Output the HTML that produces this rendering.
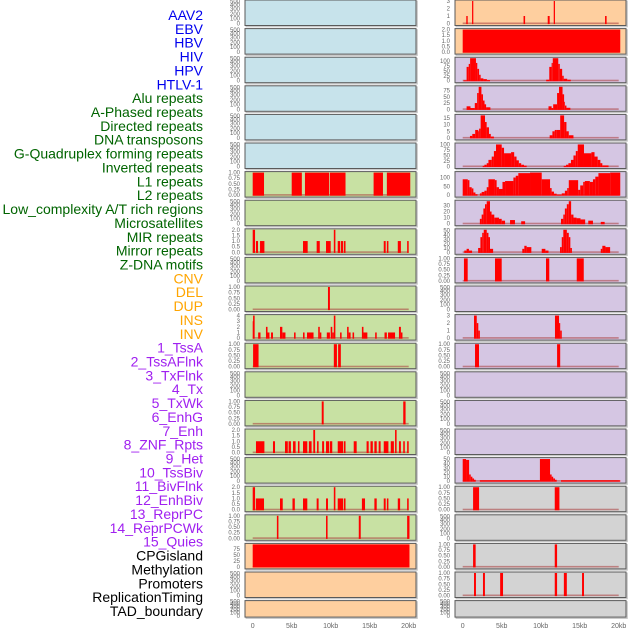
<!DOCTYPE html>
<html><head><meta charset="utf-8"><style>
html,body{margin:0;padding:0;background:#fff;}
svg{display:block;font-family:"Liberation Sans",sans-serif;}
</style></head><body>
<svg id="chart" width="630" height="630" viewBox="0 0 630 630" xmlns="http://www.w3.org/2000/svg">
<g id="labels"></g>
<g id="panels"></g>
<g id="xaxes"></g>
</svg>
<script>
const trackLabels = ["AAV2","EBV","HBV","HIV","HPV","HTLV-1","Alu repeats","A-Phased repeats","Directed repeats","DNA transposons","G-Quadruplex forming repeats","Inverted repeats","L1 repeats","L2 repeats","Low_complexity A/T rich regions","Microsatellites","MIR repeats","Mirror repeats","Z-DNA motifs","CNV","DEL","DUP","INS","INV","1_TssA","2_TssAFlnk","3_TxFlnk","4_Tx","5_TxWk","6_EnhG","7_Enh","8_ZNF_Rpts","9_Het","10_TssBiv","11_BivFlnk","12_EnhBiv","13_ReprPC","14_ReprPCWk","15_Quies","CPGisland","Methylation","Promoters","ReplicationTiming","TAD_boundary"];
const labelGroups = ["v","v","v","v","v","v","r","r","r","r","r","r","r","r","r","r","r","r","r","s","s","s","s","s","c","c","c","c","c","c","c","c","c","c","c","c","c","c","c","o","o","o","o","o"];
const xTickValues = [0,5,10,15,20];
const xTickLabels = ["0","5kb","10kb","15kb","20kb"];

// segments: [startKb, endKb, value]
const leftSeries = [
 [],[],[],[],[],[],
 [[0,1.45,1],[5.0,6.3,1],[6.7,9.8,1],[9.9,11.9,1],[15.5,16.7,1],[17.2,20.2,1]],
 [],
 [[0,0.3,2],[0.42,0.68,1],[0.94,1.5,1],[6.45,7.05,1],[8.2,8.6,1],[9.4,10.0,1],[10.4,10.6,2],[10.9,11.2,1],[11.3,11.6,1],[11.7,11.9,1],[16.8,17.05,1],[17.2,17.4,1],[18.6,19.0,1],[19.8,20.0,1]],
 [],
 [[9.65,9.9,1]],
 [[0,0.05,3],[0.05,0.25,4],[0.7,1.0,1],[1.7,1.9,2],[1.9,2.15,1],[2.35,2.6,1],[3.5,3.8,2],[3.8,4.2,1],[5.3,5.5,1],[6.45,6.65,1],[6.96,7.8,1],[8.4,8.6,2],[8.6,8.8,1],[9.5,9.9,1],[10.0,10.2,2],[10.2,10.4,1],[10.4,10.6,4],[11.2,11.4,1],[12.1,12.3,2],[12.3,12.55,1],[12.8,13.0,1],[14.0,14.2,2],[14.2,14.7,1],[15.7,15.9,1],[16.9,17.2,1],[17.35,18.25,1],[18.75,19.0,2],[19.0,19.2,1]],
 [[0.05,0.75,1],[10.4,10.8,1],[10.95,11.3,1]],
 [],
 [[8.85,9.1,1],[19.3,19.6,1]],
 [[0.42,1.5,1],[2.6,2.86,1],[4.14,4.5,1],[4.6,4.9,1],[5.17,5.5,1],[5.8,6.0,1],[6.45,7.0,1],[7.2,7.55,1],[7.77,8.0,2],[8.25,8.45,1],[8.9,9.15,1],[9.4,9.8,1],[9.9,10.2,1],[10.9,11.6,1],[11.7,11.9,1],[12.95,13.33,1],[14.6,14.87,1],[15.1,15.4,1],[15.6,15.9,1],[16.15,16.4,1],[16.8,17.4,1],[17.7,18.1,1],[18.25,18.45,2],[18.75,19.0,1],[19.3,19.5,1],[19.8,20.0,1]],
 [],
 [[0,0.3,2],[0.4,1.45,1],[3.5,3.85,1],[5.1,5.4,1],[6.45,7.0,1],[8.2,8.45,1],[9.4,9.65,1],[10.4,10.6,2],[10.9,11.6,1],[11.7,11.9,1],[14.0,14.4,1],[15.6,15.9,1],[16.8,17.05,1],[17.2,17.4,1],[18.6,18.9,1],[19.8,20.0,1]],
 [[3.1,3.3,1],[9.4,9.6,1],[13.6,13.85,1],[19.8,20.1,1]],
 [[0,20.1,100]],
 [],[]
];
const rightSeries = [
 [[0.46,0.64,1],[1.2,1.36,3],[7.8,8.0,1],[10.9,11.15,1],[11.67,11.83,3],[18.25,18.45,1]],
 [[0,20.2,2]],
 [[0.1,0.5,2],[0.5,0.77,70],[0.77,0.95,85],[0.95,1.7,115],[1.7,1.87,90],[1.87,2.1,60],[2.1,2.3,30],[2.3,2.65,12],[2.65,3.1,8],[3.1,3.5,3],[10.7,11.1,5],[11.1,11.4,70],[11.4,11.55,90],[11.55,12.25,115],[12.25,12.45,85],[12.45,12.75,60],[12.75,12.95,25],[12.95,13.4,10],[13.4,13.85,5]],
 [[0.5,1.0,12],[1.0,1.55,5],[1.55,1.85,25],[1.85,2.05,65],[2.05,2.4,90],[2.4,2.6,60],[2.6,2.8,35],[2.8,3.0,20],[3.0,3.55,8],[11.0,11.4,12],[11.4,11.6,5],[11.6,12.1,20],[12.1,12.35,65],[12.35,12.8,90],[12.8,13.0,60],[13.0,13.1,30],[13.1,13.3,15],[13.3,13.8,6]],
 [[0.93,1.23,1.5],[1.23,1.6,3],[1.6,2.0,6],[2.0,2.1,5],[2.1,2.3,7],[2.3,2.86,17],[2.86,3.07,12],[3.07,3.37,8],[3.37,3.6,3],[3.6,4.0,1],[11.15,11.5,2],[11.5,11.8,5],[11.8,12.05,6],[12.05,12.5,6],[12.5,13.0,17],[13.0,13.3,12],[13.3,13.6,5],[13.6,14.2,2]],
 [[2.56,2.78,3],[2.78,3.08,8],[3.08,3.3,15],[3.3,3.72,30],[3.72,4.0,45],[4.0,4.27,70],[4.27,5.0,100],[5.0,5.3,85],[5.3,6.2,60],[6.2,6.6,65],[6.6,6.9,45],[6.9,7.2,28],[7.2,7.5,15],[7.5,7.86,8],[7.86,8.2,4],[12.95,13.25,3],[13.25,13.55,8],[13.55,13.88,15],[13.88,14.2,30],[14.2,14.5,50],[14.5,14.75,70],[14.75,15.55,100],[15.55,16.5,60],[16.5,16.9,65],[16.9,17.3,45],[17.3,17.65,30],[17.65,17.9,15],[17.9,18.7,5]],
 [[0,0.65,90],[0.65,0.86,85],[0.86,1.15,45],[1.15,1.37,38],[1.37,1.63,15],[1.63,1.9,5],[2.2,2.43,10],[2.43,2.78,18],[2.78,3.08,25],[3.08,3.3,45],[3.3,4.13,90],[4.13,4.35,85],[4.35,4.65,45],[4.65,5.1,35],[5.1,5.43,75],[5.43,6.5,80],[6.5,6.8,100],[6.8,7.13,110],[7.13,8.63,125],[8.63,10.13,130],[10.13,11.2,90],[11.2,11.4,40],[11.4,11.7,20],[11.7,12.05,8],[12.05,12.7,3],[12.7,13.1,10],[13.1,13.4,25],[13.4,13.6,40],[13.6,14.8,85],[14.8,15.07,30],[15.07,15.45,55],[15.45,15.66,75],[15.66,16.3,80],[16.3,16.7,75],[16.7,17.0,90],[17.0,17.4,105],[17.4,18.9,125],[18.9,20.2,130]],
 [[2.2,2.43,8],[2.43,2.65,15],[2.65,2.86,25],[2.86,3.08,32],[3.08,3.5,37],[3.5,3.7,20],[3.7,4.05,15],[4.05,4.65,10],[4.65,5.0,8],[5.0,5.43,5],[6.07,6.7,6],[7.5,8.0,4],[12.6,12.9,8],[12.9,13.1,15],[13.1,13.35,25],[13.35,13.6,32],[13.6,13.9,37],[13.9,14.2,15],[14.2,14.6,10],[14.6,15.1,9],[15.1,15.7,7],[16.1,16.7,5],[17.7,18.2,3]],
 [[0.2,0.5,4],[0.5,0.8,8],[0.8,1.2,4],[1.98,2.27,10],[2.27,2.5,35],[2.5,2.7,45],[2.7,3.08,52],[3.08,3.3,45],[3.3,3.5,35],[3.5,3.9,8],[7.64,7.9,8],[7.9,8.2,15],[8.2,8.8,12],[10.13,10.6,8],[10.6,11.0,4],[12.48,12.7,12],[12.7,12.9,35],[12.9,13.35,52],[13.35,13.6,45],[13.6,13.8,35],[13.8,14.0,10],[17.7,17.9,8],[17.9,18.3,15],[18.3,18.9,12]],
 [[0.16,0.64,1],[4.14,5.0,1],[10.68,11.1,1],[14.62,15.52,1]],
 [],
 [[1.45,1.8,3],[1.8,2.0,2],[2.0,2.2,1],[11.83,12.35,3],[12.35,12.5,2],[12.5,12.7,1]],
 [[1.58,2.09,1],[12.1,12.5,1]],
 [],[],[],
 [[0,0.43,50],[0.43,0.82,48],[0.82,1.03,15],[1.03,1.24,10],[1.24,1.45,6],[1.45,1.67,3],[2.2,9.9,2],[9.9,11.2,50],[11.2,11.4,15],[11.4,11.6,10],[11.6,11.83,6],[11.83,12.05,3],[12.6,20.2,2]],
 [[1.33,2.1,1],[11.8,12.4,1]],
 [],
 [[1.33,1.66,1],[11.8,12.1,1]],
 [[1.45,1.7,1],[2.6,2.85,1],[4.8,5.17,1],[11.8,12.1,1],[12.97,13.35,1],[15.3,15.55,1]],
 []
];
const leftTicks = ["E","E","E","E","E","E","01","E","02","E","01",[0,1,2,3,4],"01","E","01","02","E","02","01",[0,25,50,75],"E","E"];
const rightTicks = [[0,1,2,3],"02",[0,25,50,75,100],[0,25,50,75],[0,5,10,15],[0,25,50,75,100],[0,50,100],[0,10,20,30],[0,10,20,30,40,50],"01","E",[0,1,2,3],"01","E","E","E",[0,10,20,30,40,50],"01","E","01","01","E"];
const leftMax = [500,500,500,500,500,500,1,500,2,500,1,4,1,500,1,2,500,2,1,95,500,500];
const rightMax = [3,2,114,90,17,102,128,37,52,1,500,3,1,500,500,500,51,1,500,1,1,500];
const leftBg = ["b","b","b","b","b","b","g","g","g","g","g","g","g","g","g","g","g","g","g","o","o","o"];
const rightBg = ["o","o","p","p","p","p","p","p","p","p","p","p","p","p","p","p","p","y","y","y","y","y"];

const NS = "http://www.w3.org/2000/svg";
const bgColors = {b:"#c7e3eb", g:"#c8e1a3", o:"#fecf9f", p:"#d5c6e3", y:"#d3d3d3"};
const labelColors = {v:"#0000ee", r:"#006400", s:"#ffa500", c:"#a020f0", o:"#000000"};
function mk(tag, attrs, parent){ const e=document.createElementNS(NS,tag); for(const k in attrs) e.setAttribute(k,attrs[k]); parent.appendChild(e); return e; }

const gl = document.getElementById('labels');
trackLabels.forEach((t,i)=>{
  const el = mk('text',{x:203,y:15+i*13.86+5,'text-anchor':'end','font-size':'14',fill:labelColors[labelGroups[i]]},gl);
  
  
  el.textContent = t;
});

const cols = [
  {x0:245, x1:416, z:252.7, series:leftSeries, ticks:leftTicks, max:leftMax, bg:leftBg, tx:240, name:'left'},
  {x0:455, x1:626, z:462.7, series:rightSeries, ticks:rightTicks, max:rightMax, bg:rightBg, tx:450, name:'right'}
];
const KB = 7.8;
const gp = document.getElementById('panels');
cols.forEach(c=>{
  const xs = kb => c.z + kb*KB;
  for(let i=0;i<22;i++){
    const top = i===21 ? 600.6 : i*28.6;
    const h = i===21 ? 16.5 : 25.5;
    const base = top + h - 2;
    const ys = v => base - (v/c.max[i])*(h-3);
    const g = mk('g',{},gp);
    
    
    mk('rect',{x:c.x0+1.2,y:top+1.2,width:c.x1-c.x0,height:h,fill:'none',stroke:'#c4c4c4','stroke-width':1.2},g);
    const bg = mk('rect',{x:c.x0,y:top,width:c.x1-c.x0,height:h,fill:bgColors[c.bg[i]]},g);
    
    
    const segs = c.series[i];
    if(segs.length){
      mk('rect',{x:xs(0),y:base-1,width:xs(20)-xs(0),height:1.6,fill:'rgba(170,60,60,0.55)'},g);
      segs.forEach(s=>{
        const v = Math.min(s[2], c.max[i]);
        const y = ys(v);
        const r = mk('rect',{x:xs(s[0]),y:y,width:Math.max(0.8,xs(s[1])-xs(s[0])),height:base+0.6-y,fill:'#ff0000'},g);
        
        
      });
    }
    mk('rect',{x:c.x0,y:top,width:c.x1-c.x0,height:h,fill:'none',stroke:'#5a5a5a','stroke-width':1},g);
    // ticks
    const tk = c.ticks[i];
    let vals, fmt, pos;
    if(tk==="E"){
      vals=[500,400,300,200,100,0];
      const off=[1.5,5,9,14,18.5,23.5];
      pos = vals.map((v,k)=>top+off[k]*h/25.5);
      fmt = v=>String(v);
    } else {
      vals = tk==="01"?[0,0.25,0.5,0.75,1]:tk==="02"?[0,0.5,1,1.5,2]:tk;
      fmt = tk==="01"?v=>v.toFixed(2):tk==="02"?v=>v.toFixed(1):v=>String(v);
      pos = vals.map(v=>ys(v));
    }
    vals.forEach((v,k)=>{
      const t = mk('text',{x:c.tx,y:pos[k]+2,'text-anchor':'end','font-size':'6',fill:'#666'},g);
      
      
      t.textContent = fmt(v);
    });
  }
  const gx = document.getElementById('xaxes');
  xTickValues.forEach((v,k)=>{
    const t = mk('text',{x:xs(v),y:628,'text-anchor':'middle','font-size':'7',fill:'#666'},gx);
    
    
    t.textContent = xTickLabels[k];
  });
});
</script>
</body></html>
